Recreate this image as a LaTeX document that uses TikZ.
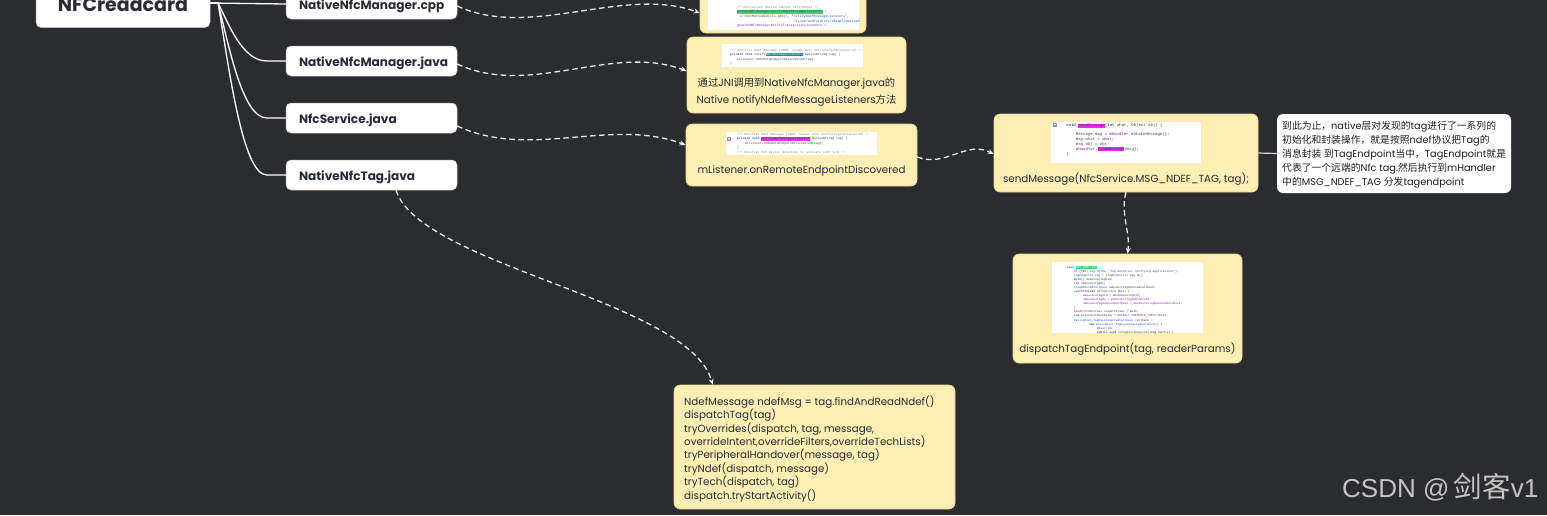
\documentclass[tikz,border=0pt]{standalone}
\usepackage{fontspec}
\setmainfont{Poppins}
\newfontfamily\cjk{Noto Sans CJK SC}
\newfontfamily\codef{Liberation Mono}
\newfontfamily\wmfont{Liberation Sans}
\usetikzlibrary{arrows.meta,calc}

\definecolor{bg}{RGB}{43,44,47}
\definecolor{cardfill}{RGB}{253,238,180}
\definecolor{cardedge}{RGB}{228,210,150}
\definecolor{ink}{RGB}{40,44,54}
\definecolor{kw}{RGB}{0,0,128}
\definecolor{cm}{RGB}{128,128,128}
\definecolor{st}{RGB}{30,80,200}
\definecolor{fd}{RGB}{140,30,170}
\definecolor{hlg}{RGB}{70,205,110}
\definecolor{hlb}{RGB}{30,120,230}
\definecolor{hlm}{RGB}{240,40,240}
\definecolor{wm}{RGB}{196,196,196}

\newcommand\hl[2]{{\fboxsep=0.2pt\colorbox{#1}{#2}}}
\newcommand\zh[1]{{\cjk #1}}

\begin{document}
\begin{tikzpicture}[x=1pt,y=-1pt,
  branchline/.style={draw=white, line width=1.3pt},
  flow/.style={draw=white!92!black, line width=1.3pt, dash pattern=on 5.5pt off 3.5pt,
    -{Stealth[length=6pt,width=5pt]}},
  topic/.style={draw=black!25, fill=white, rounded corners=5pt, line width=0.5pt, inner sep=0pt},
  branch/.style={topic, minimum width=171pt, minimum height=30pt, text width=145pt, align=left,
    text height=10pt, text depth=0pt, font=\bfseries\fontsize{12.1}{15}\selectfont, text=ink},
  card/.style={fill=cardfill, draw=cardedge, line width=0.6pt, rounded corners=6pt, inner sep=0pt},
  snip/.style={fill=white, inner sep=0pt},
  code/.style={anchor=north west, inner sep=0pt, align=left, text=black!75},
  cardtext/.style={inner sep=0pt, font=\fontsize{10.3}{12}\selectfont, text=ink},
]
\fill[bg] (0,0) rectangle (1547,515);
\useasboundingbox (0,0) rectangle (1547,515);

% ---- mind map root and branches
\node[topic, minimum width=174pt, minimum height=49pt, text height=16pt, text depth=0pt,
      font=\bfseries\fontsize{19}{22}\selectfont, text=ink] (root) at (123,3) {NFCreadcard};
\node[branch] (cpp) at (371.5,4)   {NativeNfcManager.cpp};
\node[branch] (java) at (371.5,61) {NativeNfcManager.java};
\node[branch] (svc) at (371.5,118) {NfcService.java};
\node[branch] (tag) at (371.5,175) {NativeNfcTag.java};

\coordinate (fan) at (218,3);
\draw[branchline] (root.east) -- (cpp.west);
\foreach \n/\d in {java/19, svc/38, tag/57}{
  \draw[branchline] (root.east) -- (fan) .. controls +(10,\d) and +(-25,0) .. ($(\n.west)+(-19,0)$) -- (\n.west);
}

% ---- yellow cards
\node[card, minimum width=166pt, minimum height=48pt] (b1) at (783,9) {};
\node[card, minimum width=219pt, minimum height=76pt] (b2) at (796.5,75) {};
\node[card, minimum width=231pt, minimum height=62pt] (b3) at (801.5,155) {};
\node[card, minimum width=264pt, minimum height=78pt] (b4) at (1126,153) {};
\node[card, minimum width=229pt, minimum height=109pt] (b5) at (1127.5,308.5) {};
\node[card, minimum width=281pt, minimum height=124pt] (b6) at (814.5,447) {};
\node[topic, draw=none, rounded corners=6pt, minimum width=234pt, minimum height=79pt] (note) at (1394,153.5) {};

% ---- code snippets
\node[snip, minimum width=151pt, minimum height=42pt] (s1) at (783.5,9) {};
\node[snip, minimum width=141pt, minimum height=23pt] (s2) at (792.5,55.5) {};
\node[snip, minimum width=151pt, minimum height=23pt] (s3) at (801.5,143.5) {};
\node[snip, minimum width=150pt, minimum height=41pt] (s4) at (1126,142.5) {};
\node[snip, minimum width=151pt, minimum height=71pt] (s5) at (1127.5,297.5) {};

\begin{scope}
\clip (s1.north west) rectangle (s1.south east);
\node[code, font=\codef\fontsize{3.3}{4.7}\selectfont] (c1) at (737,5.6) {%
\textcolor{cm}{/* Initialize native cached references */}\\
\hl{hlg}{gCachedNfcManagerNotifyNdefMessageListeners} =\\
\hspace*{3pt}e->GetMethodID(cls.get(), \textcolor{st}{"notifyNdefMessageListeners"},\\
\hspace*{57pt}\textcolor{st}{"(Lcom/android/nfc/dhimpl/NativeNfcTag;)V"});\\
\textcolor{fd}{gCachedNfcManagerNotifyTransactionListeners} =};
\end{scope}

\begin{scope}
\clip (s2.north west) rectangle (s2.south east);
\node[code, font=\codef\fontsize{3.1}{4.4}\selectfont] (c2) at (730,48.8) {%
\textcolor{cm}{/** Notifies Ndef Message (TODO: rename into notifyTargetDiscovered) */}\\
\textcolor{kw}{private void} notify\hl{hlb}{\textcolor{white}{NdefMessageListeners}}(NativeNfcTag tag) \{\\
\hspace*{7pt}\textcolor{fd}{mListener}.onRemoteEndpointDiscovered(tag);\\
\}};
\end{scope}

\begin{scope}
\clip (s3.north west) rectangle (s3.south east);
\node[code, font=\codef\fontsize{3.1}{4.5}\selectfont] (c3) at (737,132.8) {%
\textcolor{cm}{/** Notifies Ndef Message (TODO: rename into notifyTargetDiscovered) */}\\
\textcolor{kw}{private void} \hl{hlm}{notifyNdefMessageListeners}(NativeNfcTag tag) \{\\
\hspace*{8pt}\textcolor{fd}{mListener}.onRemoteEndpointDiscovered(tag);\\
\}\\
\textcolor{cm}{/** Notifies P2P Device detected, to activate LLCP link */}};
\draw[black!40, line width=0.3pt] (727,137.5) rectangle ++(3,3) (727.6,139) -- ++(1.8,0);
\end{scope}

\begin{scope}
\clip (s4.north west) rectangle (s4.south east);
\node[code, font=\codef\fontsize{4}{5}\selectfont] (c4) at (1066,123.5) {%
\textcolor{kw}{void} \hl{hlm}{sendMessage}(\textcolor{kw}{int} what, Object obj) \{\\[3.5pt]
\hspace*{9.7pt}Message msg = \textcolor{fd}{mHandler}.obtainMessage();\\
\hspace*{9.7pt}msg.\textcolor{fd}{what} = what;\\
\hspace*{9.7pt}msg.\textcolor{fd}{obj} = obj;\\
\hspace*{9.7pt}\textcolor{fd}{mHandler}.\hl{hlm}{sendMessage}(msg);\\
\}};
\draw[black!40, line width=0.3pt] (1053,123) rectangle ++(3.5,3.5) (1053.7,124.75) -- ++(2.1,0);
\end{scope}

\begin{scope}
\clip (s5.north west) rectangle (s5.south east);
\node[code, font=\codef\fontsize{2.9}{4.06}\selectfont] (c5) at (1067,265.9) {%
\textcolor{kw}{case} \hl{hlg}{\textcolor{white}{MSG\_NDEF\_TAG}}:\\
\hspace*{7pt}\textcolor{kw}{if} (\textcolor{fd}{DBG}) Log.d(\textcolor{fd}{TAG}, \textcolor{st}{"Tag detected, notifying applications"});\\
\hspace*{7pt}\textcolor{st}{TagEndpoint} tag = (\textcolor{st}{TagEndpoint}) msg.\textcolor{fd}{obj};\\
\hspace*{7pt}\textcolor{kw}{byte}[] debounceTagUid;\\
\hspace*{7pt}\textcolor{kw}{int} debounceTagMs;\\
\hspace*{7pt}\textcolor{st}{ITagRemovedCallback} debounceTagRemovedCallback;\\
\hspace*{7pt}\textcolor{kw}{synchronized} (NfcService.\textcolor{kw}{this}) \{\\
\hspace*{16pt}\textcolor{fd}{debounceTagUid} = \textcolor{fd}{mDebounceTagUid};\\
\hspace*{16pt}\textcolor{fd}{debounceTagMs} = \textcolor{fd}{mDebounceTagDebounceMs};\\
\hspace*{16pt}\textcolor{fd}{debounceTagRemovedCallback} = \textcolor{fd}{mDebounceTagRemovedCallback};\\
\hspace*{7pt}\}\\
\hspace*{7pt}\textcolor{fd}{ReaderModeParams} readerParams = \textcolor{kw}{null};\\
\hspace*{7pt}\textcolor{kw}{int} presenceCheckDelay = \textcolor{fd}{DEFAULT\_PRESENCE\_CHECK\_DELAY};\\
\hspace*{7pt}\textcolor{st}{DeviceHost.TagDisconnectedCallback} callback =\\
\hspace*{22pt}\textcolor{kw}{new} \textcolor{st}{DeviceHost.TagDisconnectedCallback}() \{\\
\hspace*{30pt}@Override\\
\hspace*{30pt}\textcolor{kw}{public void} onTagDisconnected(\textcolor{kw}{long} handle) \{};
\end{scope}

% ---- card captions
\node[cardtext, align=center, font=\fontsize{10.3}{17}\selectfont] (t2) at (796.5,92.5) {%
\zh{通过}JNI\zh{调用到}NativeNfcManager.java\zh{的}\\
Native notifyNdefMessageListeners\zh{方法}};
\node[cardtext] (t3) at (801.5,171) {mListener.onRemoteEndpointDiscovered};
\node[cardtext] (t4) at (1126,179) {sendMessage(NfcService.MSG\_NDEF\_TAG, tag);};
\node[cardtext] (t5) at (1127.5,349) {dispatchTagEndpoint(tag, readerParams)};
\node[cardtext, anchor=north west, align=left, font=\fontsize{10.3}{13.4}\selectfont] (t6) at (684,395.5) {%
NdefMessage ndefMsg = tag.findAndReadNdef()\\
dispatchTag(tag)\\
tryOverrides(dispatch, tag, message,\\
overrideIntent,overrideFilters,overrideTechLists)\\
tryPeripheralHandover(message, tag)\\
tryNdef(dispatch, message)\\
tryTech(dispatch, tag)\\
dispatch.tryStartActivity()};
\node[cardtext, anchor=north west, align=left, text=black!88, font=\fontsize{9.8}{14}\selectfont] (t7) at (1282,121.5) {%
\zh{到此为止，}native\zh{层对发现的}tag\zh{进行了一系列的}\\
\zh{初始化和封装操作，就是按照}ndef\zh{协议把}Tag\zh{的}\\
\zh{消息封装} \zh{到}TagEndpoint\zh{当中，}TagEndpoint\zh{就是}\\
\zh{代表了一个远端的}Nfc tag.\zh{然后执行到}mHandler\\
\zh{中的}MSG\_NDEF\_TAG \zh{分发}tagendpoint};

% ---- call flow
\draw[flow] ($(cpp.east)+(0,2)$) .. controls +(73,34) and +(-75,-28) .. ($(b1.west)+(0,4)$);
\draw[flow] ($(java.east)+(0,3)$) .. controls +(73,34) and +(-75,-28) .. ($(b2.west)+(0,-4)$);
\draw[flow] ($(svc.east)+(0,8)$) .. controls +(73,34) and +(-75,-28) .. ($(b3.west)+(0,-10)$);
\draw[flow] ($(tag.south)+(24.5,0)$) .. controls +(24,75) and +(-23,-84) .. ($(b6.north west)+(39,0)$);
\draw[flow] ($(b3.east)+(0,2)$) .. controls +(28,11) and +(-28,-14) .. ($(b4.west)+(0,1)$);
\draw[flow] (b4.south) .. controls +(-6,20) and +(3,-21) .. (b5.north);
\draw[draw=white!85!black, line width=1.2pt] (b4.east) -- (note.west);

% ---- watermark
\node[anchor=base west, inner sep=0pt, text=wm, font=\wmfont\fontsize{26}{30}\selectfont] (mark) at (1342,497) {CSDN @\,{\fontsize{28.5}{30}\selectfont\zh{剑客}}v1};
\end{tikzpicture}
\end{document}
